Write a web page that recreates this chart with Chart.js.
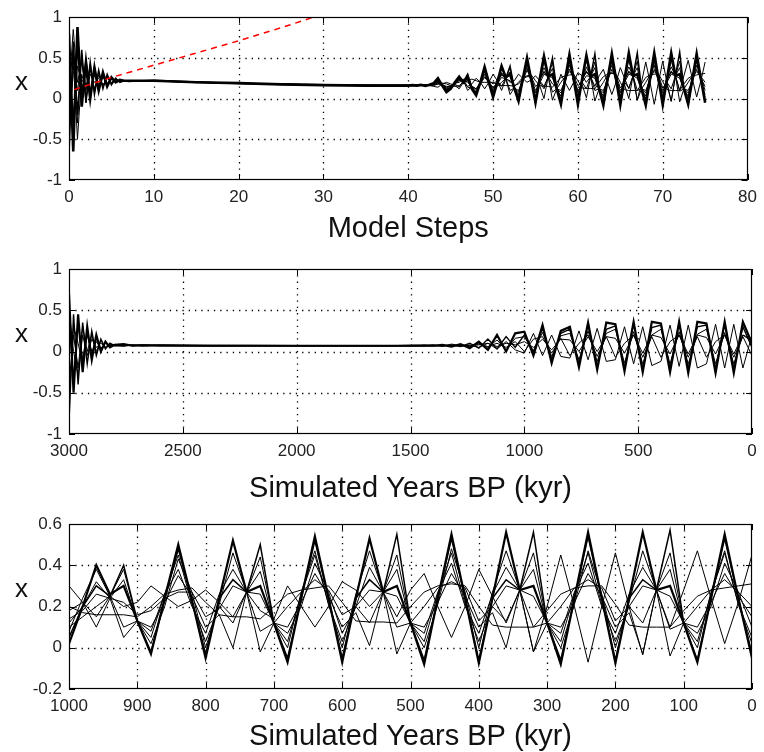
<!DOCTYPE html>
<html><head><meta charset="utf-8">
<script src="https://cdn.jsdelivr.net/npm/chart.js@4/dist/chart.umd.min.js"></script>
<style>
html,body{margin:0;padding:0;background:#fff;overflow:hidden;}
#wrap{position:relative;width:764px;height:752px;overflow:hidden;background:#fff;}
canvas{position:absolute;left:0;}
</style></head><body>
<div id="wrap">
<canvas id="c1" width="764" height="250" style="top:0px"></canvas>
<canvas id="c2" width="764" height="260" style="top:250px"></canvas>
<canvas id="c3" width="764" height="256" style="top:500px"></canvas>
</div>
<script>
// ---------- data: ensemble run A (panels 1 and 3), time in kyr BP ----------
const timeA = [3000,2980,2960,2940,2920,2900,2880,2860,2840,2820,2800,2780,2760,2740,2720,
 2600,2400,2200,2000,1800,1600,
 1400,1380,1360,1340,1320,1300,1280,1260,1240,1220,1200,1180,1160,1140,1120,1100,1080,1060,1040,1020,
 1000,980,960,940,920,900,880,860,840,820,800,780,760,740,720,700,680,660,640,620,600,580,560,540,520,500,
 480,460,440,420,400,380,360,340,320,300,280,260,240,220,200,180,160,140,120,100,80,60,40,20,0];

const runA1 = [0.8,-0.65,0.88,-0.1,0.45,0.0,0.38,0.1,0.32,0.15,0.26,0.2,0.23,0.22,0.22,
 0.22,0.2,0.19,0.175,0.165,0.16,
 0.16,0.165,0.16,0.17,0.155,0.17,0.19,0.25,0.16,0.08,0.12,0.2,0.27,0.2,0.27,0.12,0.04,0.2,0.39,0.2,
 0.02,0.2,0.4,0.26,0.3,0.13,-0.03,0.24,0.5,0.23,-0.05,0.24,0.52,0.27,0.3,0.12,-0.07,0.24,0.54,0.24,
 -0.07,0.24,0.53,0.27,0.3,0.12,-0.08,0.24,0.55,0.24,-0.075,0.24,0.56,0.28,0.3,0.12,-0.08,0.24,0.56,0.24,
 -0.075,0.24,0.56,0.28,0.3,0.12,-0.07,0.24,0.55,0.24,-0.05];
const runA2 = [-0.7,0.7,-0.2,0.6,-0.05,0.45,0.05,0.35,0.12,0.3,0.17,0.25,0.2,0.22,0.21,
 0.225,0.205,0.185,0.18,0.17,0.16,
 0.16,0.16,0.165,0.16,0.17,0.16,0.18,0.22,0.17,0.1,0.13,0.2,0.24,0.21,0.3,0.13,0.05,0.2,0.36,0.2,
 0.05,0.2,0.3,0.25,0.4,0.13,-0.02,0.23,0.48,0.23,-0.03,0.24,0.33,0.27,0.5,0.12,-0.05,0.24,0.52,0.24,
 -0.05,0.24,0.33,0.27,0.55,0.12,-0.06,0.24,0.53,0.24,-0.06,0.24,0.33,0.28,0.56,0.12,-0.06,0.24,0.54,0.24,
 -0.06,0.24,0.33,0.28,0.57,0.12,-0.06,0.24,0.53,0.24,-0.03];
const runA3 = [0.5,-0.4,0.75,0.0,0.5,0.05,0.4,0.12,0.3,0.17,0.26,0.2,0.22,0.21,0.22,
 0.22,0.2,0.19,0.17,0.165,0.165,
 0.165,0.16,0.16,0.165,0.16,0.175,0.17,0.2,0.18,0.12,0.14,0.2,0.26,0.22,0.24,0.13,0.08,0.21,0.33,0.21,
 0.08,0.24,0.38,0.25,0.38,0.13,0.02,0.2,0.43,0.27,0.0,0.21,0.46,0.27,0.44,0.12,0.0,0.27,0.47,0.21,
 0.0,0.26,0.47,0.27,0.45,0.12,0.0,0.21,0.48,0.27,0.0,0.27,0.47,0.28,0.46,0.12,0.0,0.21,0.47,0.26,
 0.0,0.22,0.47,0.28,0.46,0.12,0.0,0.27,0.47,0.21,0.02];
const runA4 = [0.2,0.6,-0.3,0.55,-0.05,0.42,0.08,0.33,0.14,0.28,0.18,0.24,0.21,0.22,0.22,
 0.215,0.2,0.19,0.175,0.16,0.16,
 0.16,0.165,0.165,0.16,0.165,0.16,0.18,0.21,0.17,0.13,0.15,0.19,0.23,0.2,0.22,0.14,0.1,0.19,0.3,0.2,
 0.12,0.2,0.32,0.24,0.33,0.13,0.08,0.26,0.38,0.2,0.07,0.26,0.38,0.27,0.37,0.12,0.07,0.2,0.41,0.27,
 0.07,0.2,0.39,0.27,0.38,0.12,0.07,0.27,0.41,0.2,0.07,0.26,0.39,0.28,0.38,0.12,0.07,0.27,0.41,0.2,
 0.07,0.26,0.39,0.28,0.38,0.12,0.07,0.2,0.41,0.27,0.1];
const runA5 = [-0.3,0.3,0.55,0.1,0.35,0.1,0.3,0.15,0.27,0.18,0.25,0.2,0.22,0.22,0.21,
 0.22,0.195,0.19,0.18,0.165,0.16,
 0.165,0.16,0.17,0.16,0.16,0.17,0.16,0.18,0.17,0.14,0.16,0.18,0.14,0.22,0.1,0.15,0.12,0.2,0.27,0.22,
 0.18,0.22,0.1,0.24,0.05,0.13,0.1,0.22,0.35,0.25,0.1,0.16,0.0,0.27,-0.02,0.12,0.1,0.22,0.36,0.25,
 0.1,0.17,0.01,0.27,-0.03,0.12,0.1,0.22,0.36,0.25,0.1,0.17,0.0,0.28,-0.02,0.12,0.1,0.22,0.36,0.25,
 0.1,0.17,-0.03,0.28,-0.04,0.12,0.1,0.22,0.36,0.25,0.15];
const runA6 = [0.1,0.85,0.2,0.45,0.15,0.4,0.1,0.3,0.15,0.26,0.19,0.24,0.21,0.22,0.22,
 0.22,0.205,0.185,0.175,0.17,0.165,
 0.16,0.16,0.16,0.165,0.17,0.16,0.15,0.14,0.18,0.2,0.18,0.16,0.12,0.2,0.15,0.18,0.25,0.2,0.12,0.2,
 0.3,0.22,0.15,0.25,0.2,0.22,0.3,0.25,0.2,0.23,0.28,0.22,0.15,0.27,0.18,0.14,0.3,0.2,0.1,0.2,
 0.32,0.28,0.2,0.27,0.15,0.28,0.36,0.2,0.05,0.2,0.38,0.25,0.12,0.28,-0.02,0.2,0.45,0.2,-0.07,0.2,
 0.46,0.2,-0.035,0.28,0.1,0.28,0.47,0.24,0.02,0.22,0.45];
const runA7 = [0.6,-0.2,0.4,0.2,0.3,0.05,0.35,0.12,0.28,0.16,0.24,0.2,0.22,0.21,0.22,
 0.215,0.2,0.19,0.175,0.165,0.16,
 0.16,0.16,0.16,0.16,0.16,0.165,0.17,0.18,0.19,0.18,0.16,0.15,0.16,0.2,0.22,0.24,0.22,0.2,0.2,0.2,
 0.2,0.17,0.16,0.16,0.16,0.15,0.2,0.26,0.28,0.29,0.22,0.16,0.15,0.15,0.14,0.2,0.26,0.28,0.29,0.3,
 0.22,0.13,0.125,0.125,0.12,0.2,0.27,0.3,0.31,0.3,0.2,0.11,0.1,0.1,0.1,0.18,0.26,0.29,0.3,0.3,
 0.21,0.11,0.1,0.1,0.1,0.18,0.25,0.28,0.29,0.3,0.31];
const runA8 = [-0.5,0.4,0.1,0.5,0.0,0.3,0.2,0.25,0.15,0.25,0.2,0.23,0.21,0.22,0.21,
 0.22,0.2,0.185,0.175,0.165,0.16,
 0.165,0.16,0.16,0.16,0.16,0.16,0.17,0.19,0.17,0.15,0.15,0.18,0.22,0.22,0.2,0.15,0.12,0.18,0.26,0.2,
 0.14,0.18,0.26,0.24,0.22,0.16,0.18,0.24,0.27,0.27,0.15,0.19,0.3,0.27,0.26,0.12,0.2,0.27,0.33,0.28,
 0.16,0.2,0.28,0.27,0.25,0.12,0.2,0.29,0.32,0.29,0.13,0.2,0.3,0.28,0.25,0.12,0.2,0.29,0.33,0.29,
 0.13,0.2,0.3,0.28,0.25,0.12,0.2,0.28,0.33,0.27,0.2];
const runA9 = [0.3,0.5,-0.5,0.3,0.1,0.35,0.12,0.3,0.16,0.26,0.19,0.23,0.21,0.22,0.22,
 0.22,0.2,0.19,0.18,0.165,0.165,
 0.16,0.165,0.16,0.165,0.16,0.17,0.18,0.23,0.16,0.11,0.13,0.19,0.2,0.24,0.14,0.13,0.07,0.2,0.34,0.19,
 0.1,0.15,0.2,0.25,0.1,0.13,0.05,0.26,0.45,0.21,0.03,0.2,0.12,0.27,0.08,0.12,0.03,0.26,0.45,0.21,
 0.03,0.2,0.12,0.27,0.1,0.12,0.03,0.26,0.46,0.21,0.03,0.2,0.13,0.28,0.1,0.12,0.03,0.26,0.46,0.21,
 0.03,0.2,0.12,0.28,0.09,0.12,0.03,0.26,0.46,0.21,0.05];

// red dashed reference line (panel 1, model steps)
const redSteps = [0.6, 5, 10, 15, 20, 25, 30];
const redValues = [0.11, 0.26, 0.41, 0.56, 0.71, 0.87, 1.04];

// ---------- data: ensemble run B (panel 2), time in kyr BP ----------
const timeB = [3000,2980,2960,2940,2920,2900,2880,2860,2840,2820,2800,2760,2720,2680,
 2600,2400,2200,2000,1800,1600,
 1480,1440,1400,1360,1320,1280,1240,1200,1160,1120,1080,1040,1000,960,920,880,840,800,760,720,
 680,640,600,560,520,480,440,400,360,320,280,240,200,160,120,80,40,0];
const runB1 = [0.7,-0.5,0.45,-0.25,0.3,-0.1,0.2,0.0,0.12,0.05,0.08,0.09,0.07,0.075,
 0.075,0.072,0.07,0.07,0.07,0.07,
 0.07,0.075,0.07,0.08,0.06,0.09,0.04,0.12,0.02,0.2,0.0,0.22,0.24,-0.05,0.32,-0.14,0.25,0.3,-0.19,0.35,
 -0.22,0.35,0.33,-0.24,0.36,-0.25,0.36,0.34,-0.25,0.36,-0.26,0.36,0.34,-0.26,0.36,-0.26,0.36,0.1];
const runB2 = [-0.85,0.45,-0.4,0.35,-0.15,0.25,-0.05,0.15,0.03,0.1,0.07,0.065,0.08,0.07,
 0.075,0.07,0.072,0.07,0.07,0.068,
 0.075,0.07,0.075,0.07,0.08,0.06,0.1,0.04,0.15,0.03,0.18,0.05,0.2,0.0,0.28,-0.1,0.22,0.27,-0.15,0.33,
 -0.18,0.27,0.31,-0.2,0.34,-0.21,0.29,0.32,-0.21,0.35,-0.21,0.3,0.32,-0.21,0.34,-0.21,0.3,0.05];
const runB3 = [0.3,-0.3,0.35,-0.1,0.25,-0.05,0.18,0.02,0.11,0.06,0.08,0.07,0.075,0.08,
 0.072,0.07,0.07,0.072,0.07,0.07,
 0.07,0.07,0.08,0.06,0.09,0.07,0.06,0.1,0.05,0.14,0.02,0.16,0.18,0.0,0.23,-0.06,0.19,0.22,-0.1,0.25,
 -0.12,0.22,0.27,-0.14,0.24,-0.15,0.2,0.27,-0.15,0.24,-0.15,0.21,0.27,-0.15,0.23,-0.15,0.2,0.12];
const runB4 = [-0.4,0.2,-0.2,0.3,0.0,0.2,0.0,0.14,0.04,0.09,0.07,0.08,0.07,0.075,
 0.07,0.072,0.07,0.07,0.071,0.07,
 0.07,0.075,0.07,0.075,0.07,0.08,0.07,0.09,0.06,0.1,0.05,0.12,0.0,0.15,0.18,-0.02,0.16,-0.05,0.1,0.2,
 -0.06,0.18,-0.07,0.1,0.2,-0.07,0.18,-0.07,0.12,0.2,-0.07,0.18,-0.07,0.12,0.2,-0.07,0.18,-0.05];
const runB5 = [0.5,0.0,-0.3,0.2,-0.05,0.15,0.05,0.1,0.06,0.08,0.075,0.07,0.08,0.07,
 0.075,0.07,0.07,0.07,0.07,0.07,
 0.07,0.07,0.07,0.07,0.075,0.065,0.08,0.05,0.1,0.03,0.12,0.02,-0.02,0.22,-0.05,0.2,-0.06,-0.08,0.25,-0.1,
 0.28,-0.12,-0.1,0.3,-0.15,0.3,-0.17,-0.12,0.32,-0.18,0.32,-0.2,-0.15,0.33,-0.2,0.33,-0.2,0.2];
const runB6 = [-0.6,0.3,0.1,-0.15,0.2,0.0,0.12,0.04,0.1,0.07,0.08,0.075,0.07,0.08,
 0.07,0.07,0.072,0.07,0.07,0.07,
 0.07,0.07,0.07,0.072,0.07,0.075,0.07,0.08,0.1,0.06,0.1,0.08,0.12,0.05,0.15,0.02,0.15,0.14,0.0,0.18,
 0.0,0.18,0.16,-0.02,0.2,-0.02,0.2,0.17,-0.03,0.2,-0.03,0.2,0.17,-0.03,0.2,-0.03,0.2,0.15];

// axis tick settings
const yTicksWide = {min: -1, max: 1, step: 0.5};
const yTicksZoom = {min: -0.2, max: 0.6, step: 0.2};

// ---------- helpers ----------
const FONT = '"Liberation Sans", Arial, sans-serif';
const runsA = [runA1, runA2, runA3, runA4, runA5, runA6, runA7, runA8, runA9];
const widthsA = [2.6, 1.5, 1, 1, 1, 1, 1, 1, 1];
const runsB = [runB1, runB2, runB3, runB4, runB5, runB6];
const widthsB = [2.2, 1.4, 1, 1, 1, 1];
const KYR_PER_STEP = 40;
const toStep = t => (3000 - t) / KYR_PER_STEP;

function pts(xs, ys, filt) {
  const out = [];
  xs.forEach((x, i) => { if (ys[i] !== undefined && (!filt || filt(x))) out.push({x: x, y: ys[i]}); });
  return out;
}
function lineDs(data, w) {
  return {data: data, borderColor: '#000', borderWidth: w, pointRadius: 0, tension: 0, fill: false, order: 1};
}
const fmt = v => String(+(+v).toFixed(2));

const matlabAxes = {
  id: 'matlabAxes',
  beforeDatasetsDraw(chart) {
    const {ctx, chartArea: a, scales: {x, y}} = chart;
    ctx.save();
    ctx.strokeStyle = '#000'; ctx.lineWidth = 1.3; ctx.setLineDash([1.3, 5]);
    ctx.beginPath();
    x.ticks.forEach(t => {
      const p = Math.round(x.getPixelForValue(t.value)) + 0.5;
      if (p > a.left + 2 && p < a.right - 2) { ctx.moveTo(p, a.top); ctx.lineTo(p, a.bottom); }
    });
    y.ticks.forEach(t => {
      const p = Math.round(y.getPixelForValue(t.value)) + 0.5;
      if (p > a.top + 2 && p < a.bottom - 2) { ctx.moveTo(a.left, p); ctx.lineTo(a.right, p); }
    });
    ctx.stroke();
    ctx.restore();
  },
  afterDatasetsDraw(chart, args, opts) {
    const {ctx, chartArea: a, scales: {x, y}} = chart;
    ctx.save();
    ctx.setLineDash([]);
    ctx.strokeStyle = '#000'; ctx.lineWidth = 1;
    ctx.beginPath();
    const L = 6;
    x.ticks.forEach(t => {
      const p = Math.round(x.getPixelForValue(t.value)) + 0.5;
      ctx.moveTo(p, a.bottom); ctx.lineTo(p, a.bottom - L);
      ctx.moveTo(p, a.top); ctx.lineTo(p, a.top + L);
    });
    y.ticks.forEach(t => {
      const p = Math.round(y.getPixelForValue(t.value)) + 0.5;
      ctx.moveTo(a.left, p); ctx.lineTo(a.left + L, p);
      ctx.moveTo(a.right, p); ctx.lineTo(a.right - L, p);
    });
    ctx.stroke();
    ctx.lineWidth = 1.2;
    ctx.strokeRect(Math.round(a.left) + 0.5, Math.round(a.top) + 0.5, Math.round(a.right - a.left) - 1, Math.round(a.bottom - a.top) - 1);
    ctx.fillStyle = '#111';
    ctx.font = '26px ' + FONT;
    ctx.textAlign = 'center'; ctx.textBaseline = 'alphabetic';
    ctx.fillText(opts.label || 'x', 21.5, opts.labelY);
    ctx.restore();
  }
};

function makeChart(id, cfg) {
  return new Chart(document.getElementById(id), {
    type: 'line',
    data: {datasets: cfg.datasets},
    plugins: [matlabAxes],
    options: {
      responsive: false, animation: false, events: [],
      layout: {padding: {top: cfg.padTop, right: 12, bottom: 0, left: 0}},
      plugins: {legend: {display: false}, tooltip: {enabled: false}, matlabAxes: {labelY: cfg.labelY, label: 'x'}},
      scales: {
        x: {
          type: 'linear', min: cfg.xMin, max: cfg.xMax, reverse: !!cfg.reverse,
          grid: {display: false, drawTicks: false}, border: {display: false},
          ticks: {stepSize: cfg.xStep, autoSkip: false, maxRotation: 0, padding: 7, color: '#222',
                  font: {family: FONT, size: 17}, callback: v => fmt(v)},
          title: {display: true, text: cfg.xTitle, color: '#111', font: {family: FONT, size: 29},
                  padding: {top: 0, bottom: cfg.titlePad}},
          afterFit: s => { s.height = cfg.xHeight; }
        },
        y: {
          type: 'linear', min: cfg.y.min, max: cfg.y.max,
          grid: {display: false, drawTicks: false}, border: {display: false},
          ticks: {stepSize: cfg.y.step, autoSkip: false, padding: 7, color: '#222',
                  font: {family: FONT, size: 17}, callback: v => fmt(v)},
          afterFit: s => { s.width = 69; }
        }
      }
    }
  });
}

// panel 1: model steps
const ds1 = runsA.map((r, i) => lineDs(pts(timeA.map(toStep), r), widthsA[i]));
ds1.unshift({data: pts(redSteps, redValues), borderColor: '#ff0000', borderWidth: 1.5, borderDash: [6, 5],
  pointRadius: 0, tension: 0, fill: false, order: 0});
makeChart('c1', {datasets: ds1, padTop: 14, xHeight: 70, titlePad: 4, labelY: 90,
  xMin: 0, xMax: 80, xStep: 10, xTitle: 'Model Steps', y: yTicksWide});

// panel 2: full run B in kyr BP
const ds2 = runsB.map((r, i) => lineDs(pts(timeB, r), widthsB[i]));
makeChart('c2', {datasets: ds2, padTop: 19, xHeight: 76, titlePad: 4, labelY: 92,
  xMin: 0, xMax: 3000, xStep: 500, reverse: true, xTitle: 'Simulated Years BP (kyr)', y: yTicksWide});

// panel 3: last 1000 kyr of run A
const ds3 = runsA.map((r, i) => lineDs(pts(timeA, r, t => t <= 1000), widthsA[i] > 2 ? 2.2 : widthsA[i]));
makeChart('c3', {datasets: ds3, padTop: 24, xHeight: 67, titlePad: 2, labelY: 97,
  xMin: 0, xMax: 1000, xStep: 100, reverse: true, xTitle: 'Simulated Years BP (kyr)', y: yTicksZoom});
</script>
</body></html>
